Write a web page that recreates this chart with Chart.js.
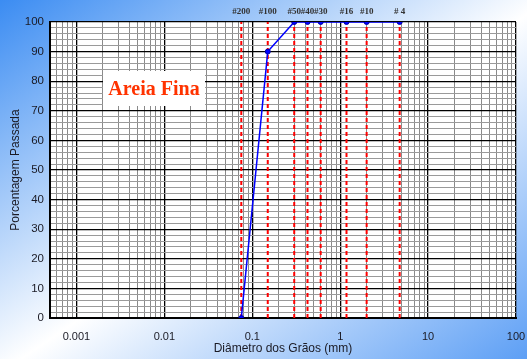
<!DOCTYPE html>
<html>
<head>
<meta charset="utf-8">
<script src="https://cdn.jsdelivr.net/npm/chart.js@4"></script>
<style>
  html, body { margin: 0; padding: 0; }
  body {
    width: 527px; height: 359px; overflow: hidden;
    background: linear-gradient(to bottom right, #3b8cf2 0%, #ffffff 52%, #5d9ff5 100%);
  }
  #wrap { position: relative; width: 527px; height: 359px; }
</style>
</head>
<body>
<div id="wrap"><canvas id="chartCurva"></canvas></div>
<script>
// Curva granulometrica - Areia Fina
// ------------------------------
// Peneiras e aberturas (mm)
const peneiras = ['#200', '#100', '#50', '#40', '#30', '#16', '#10', '# 4'];
const aberturas = [0.075, 0.15, 0.3, 0.425, 0.6, 1.18, 2.0, 4.75];
// Porcentagem passada em cada peneira
const passante = [0, 90, 100, 100, 100, 100, 100, 100];
// Rotulos dos eixos
const xTickLabels = ['0.001', '0.01', '0.1', '1', '10', '100'];
const yTickLabels = [0, 10, 20, 30, 40, 50, 60, 70, 80, 90, 100];
const yMinorStep = 2;
const xMin = 0.0005, xMax = 100;

// ticks do eixo x: decadas (principais) + 2..9 (secundarios)
const xTicks = [];
const decadas = [0.0001].concat(xTickLabels.map(Number));
decadas.forEach(d => {
  for (let m = 1; m <= 9; m++) {
    const v = d * m;
    if (v < xMin || v > xMax * 1.0001) continue;
    const lab = xTickLabels.find(t => m === 1 && Math.abs(Number(t) - v) < v * 1e-6);
    xTicks.push({ value: m === 1 ? d : v, major: m === 1, label: lab || '' });
  }
});
// ticks do eixo y
const yTicks = [];
for (let v = yTickLabels[0]; v <= yTickLabels[yTickLabels.length - 1]; v += yMinorStep) {
  yTicks.push({ value: v, major: yTickLabels.includes(v) });
}

const fonteEixo = { family: '"Liberation Sans", Arial, sans-serif', size: 11 };
const corTexto = '#1a1a24';

// linhas tracejadas das peneiras
const linhasPeneiras = aberturas.map((a, i) => ({
  label: peneiras[i],
  data: [{ x: a, y: yTickLabels[0] }, { x: a, y: yTickLabels[yTickLabels.length - 1] }],
  borderColor: '#ff0000',
  borderWidth: 2,
  borderDash: [4, 3],
  pointRadius: 0,
  order: 2
}));

const fundoPlot = {
  id: 'fundoPlot',
  beforeDraw(chart) {
    const { ctx, chartArea: a } = chart;
    ctx.save();
    ctx.fillStyle = '#ffffff';
    ctx.fillRect(a.left, a.top, a.right - a.left, a.bottom - a.top);
    ctx.restore();
  }
};

const rotulos = {
  id: 'rotulos',
  afterDatasetsDraw(chart) {
    const { ctx, chartArea: a, scales } = chart;
    ctx.save();
    // nomes das peneiras no topo
    ctx.font = 'bold 9px "Liberation Serif", "Times New Roman", serif';
    ctx.fillStyle = '#333333';
    ctx.textAlign = 'center';
    ctx.textBaseline = 'middle';
    aberturas.forEach((ab, i) => {
      ctx.fillText(peneiras[i], scales.x.getPixelForValue(ab), a.top - 10);
    });
    // caixa "Areia Fina"
    const bx = a.left + 53, by = a.top + 49, bw = 102, bh = 35;
    ctx.fillStyle = '#ffffff';
    ctx.fillRect(bx, by, bw, bh);
    ctx.font = 'bold 20px "Liberation Serif", "Times New Roman", serif';
    ctx.fillStyle = '#ff3300';
    ctx.fillText('Areia Fina', bx + bw / 2, by + bh / 2 + 1);
    ctx.restore();
  }
};

const ctxCurva = document.getElementById('chartCurva').getContext('2d');
const chartCurva = new Chart(ctxCurva, {
  type: 'line',
  data: {
    datasets: [{
      label: 'Areia Fina',
      data: aberturas.map((a, i) => ({ x: a, y: passante[i] })),
      borderColor: '#0000ff',
      borderWidth: 1.5,
      pointRadius: 2.5,
      pointBackgroundColor: '#0000ff',
      pointBorderColor: '#0000aa',
      pointBorderWidth: 1,
      order: 1
    }].concat(linhasPeneiras)
  },
  options: {
    responsive: true,
    maintainAspectRatio: false,
    animation: false,
    layout: { padding: { top: 22, right: 0, left: 0, bottom: 0 } },
    scales: {
      x: {
        type: 'logarithmic',
        min: xMin,
        max: xMax,
        afterBuildTicks: s => { s.ticks = xTicks.map(t => ({ value: t.value, major: t.major })); },
        afterFit: s => { s.height = 41; s.paddingRight = 11; s.paddingLeft = 0; },
        grid: {
          drawTicks: false,
          color: c => (c.tick && c.tick.major ? '#000000' : '#8a8a8a'),
          lineWidth: c => (c.tick && c.tick.major ? 1.3 : 1)
        },
        border: { display: true, color: '#000000', width: 2 },
        ticks: {
          autoSkip: false,
          maxRotation: 0,
          padding: 12,
          color: corTexto,
          font: fonteEixo,
          callback: (v, i) => xTicks[i] ? xTicks[i].label : ''
        },
        title: {
          display: true,
          text: 'Diâmetro dos Grãos (mm)',
          color: corTexto,
          font: { family: '"Liberation Sans", Arial, sans-serif', size: 12 },
          padding: { top: 0, bottom: 3 }
        }
      },
      y: {
        min: yTickLabels[0],
        max: yTickLabels[yTickLabels.length - 1],
        afterBuildTicks: s => { s.ticks = yTicks.map(t => ({ value: t.value, major: t.major })); },
        afterFit: s => { s.width = 50; },
        grid: {
          drawTicks: false,
          color: c => (c.tick && c.tick.major ? '#000000' : '#9a9a9a'),
          lineWidth: c => (c.tick && c.tick.major ? 1.3 : 1)
        },
        border: { display: true, color: '#000000', width: 2 },
        ticks: {
          autoSkip: false,
          padding: 6,
          color: corTexto,
          font: { family: '"Liberation Sans", Arial, sans-serif', size: 11.5 },
          callback: (v, i) => (yTicks[i] && yTicks[i].major ? String(yTicks[i].value) : '')
        },
        title: {
          display: true,
          text: 'Porcentagem Passada',
          color: corTexto,
          font: { family: '"Liberation Sans", Arial, sans-serif', size: 12 },
          padding: { top: 8, bottom: 0 }
        }
      }
    },
    plugins: {
      legend: { display: false },
      tooltip: { enabled: false }
    }
  },
  plugins: [fundoPlot, rotulos]
});
</script>
</body>
</html>
